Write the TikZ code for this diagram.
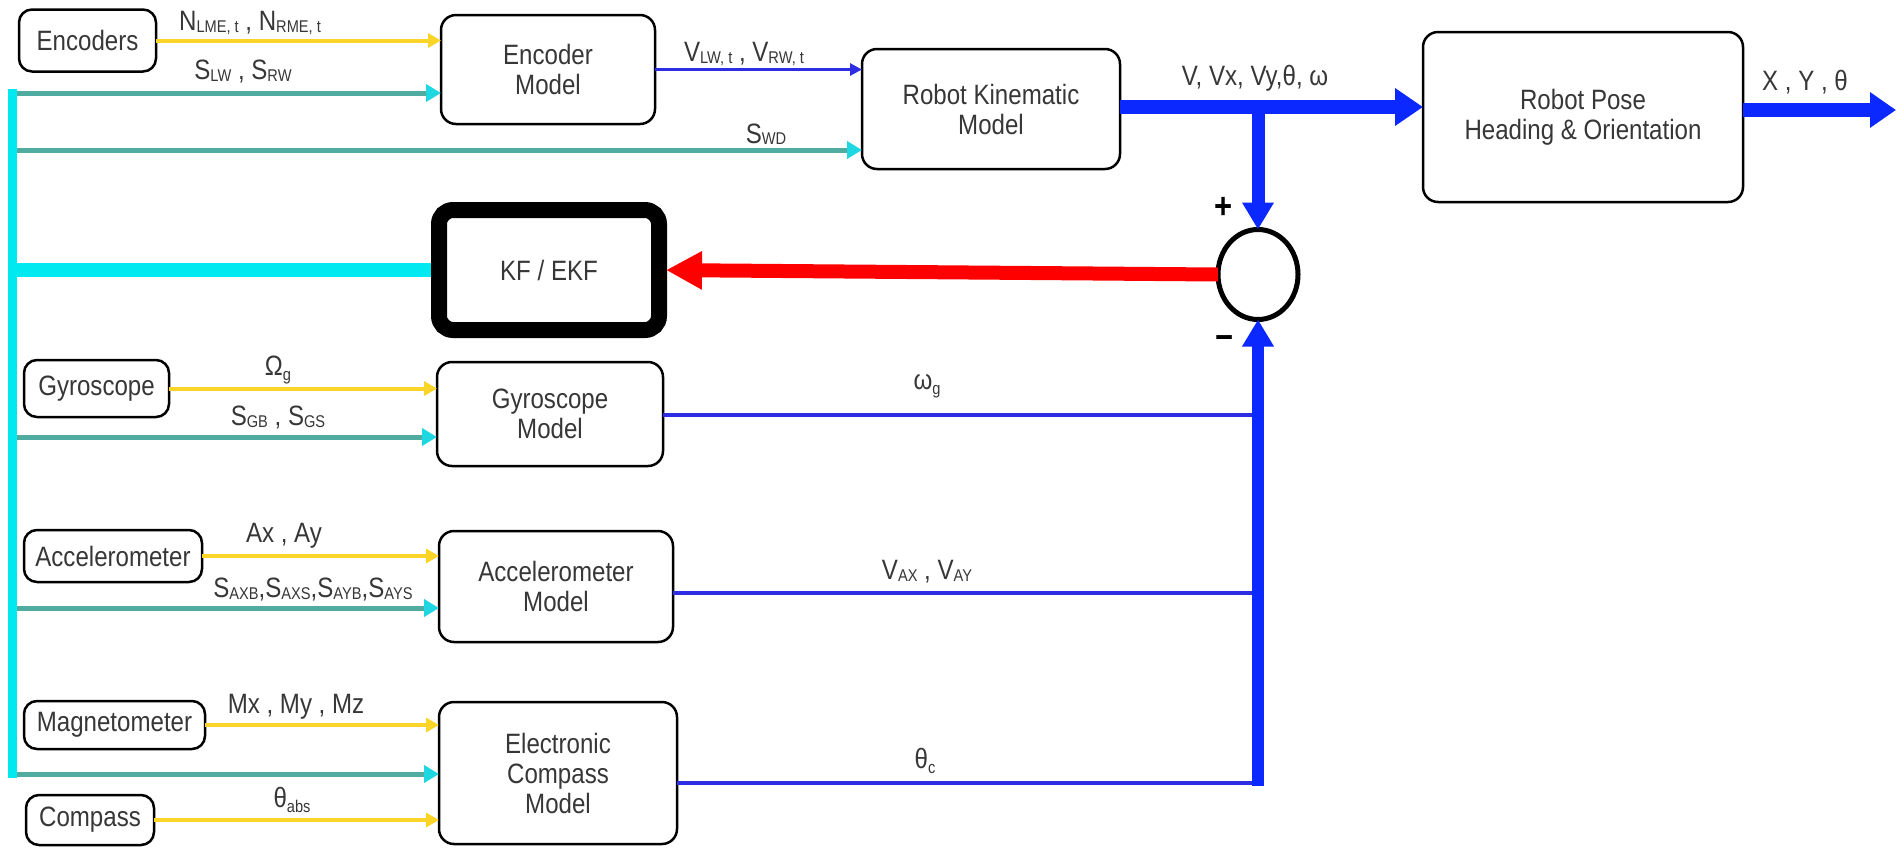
\documentclass[tikz,border=0pt]{standalone}
\usepackage{fontspec}
\setmainfont{Liberation Sans}[FakeStretch=0.86]
\usetikzlibrary{arrows.meta,shapes.geometric}
\definecolor{ylw}{RGB}{250,212,40}
\definecolor{tealc}{RGB}{80,172,160}
\definecolor{cyanh}{RGB}{30,215,225}
\definecolor{busc}{RGB}{0,232,240}
\definecolor{tblue}{RGB}{45,45,225}
\definecolor{bblue}{RGB}{10,40,255}
\definecolor{redc}{RGB}{255,0,0}
\definecolor{txt}{RGB}{55,55,55}
\newcommand{\lsub}[1]{\raisebox{-1.5pt}{\fontsize{17}{17}\selectfont #1}}
\newcommand{\gsub}[1]{\raisebox{-5pt}{\fontsize{17}{17}\selectfont #1}}
\begin{document}
\begin{tikzpicture}[x=1pt,y=-1pt,
  every node/.style={text=txt, font=\fontsize{28}{30}\selectfont, outer sep=0pt},
  box/.style={draw=black, line width=2.5pt, rounded corners=13pt, align=center, inner sep=0pt, fill=white},
  lbl/.style={inner sep=0pt},
  yarr/.style={draw=ylw, line width=4pt, -{Triangle[length=13pt,width=14pt]}},
  tarr/.style={draw=tealc, line width=5pt, -{Triangle[length=15pt,width=17pt,color=cyanh]}},
  tline/.style={draw=tblue, line width=3.5pt},
  bline/.style={draw=bblue, line width=14pt},
]
\useasboundingbox[fill=white] (0,0) rectangle (1897,847);

% sensor boxes
\node[box, minimum width=137pt, minimum height=62pt] (enc) at (87.5,40.5) {Encoders};
\node[box, minimum width=145pt, minimum height=57pt] (gyro) at (96.5,388.5) {Gyroscope};
\node[box, minimum width=178pt, minimum height=52pt] (acc) at (113,556) {Accelerometer};
\node[box, minimum width=181pt, minimum height=48pt] (mag) at (114.5,725) {Magnetometer};
\node[box, minimum width=128pt, minimum height=50pt] (comp) at (90,820) {Compass};

% model boxes
\node[box, rounded corners=15pt, minimum width=214pt, minimum height=109pt] (encm) at (548,69.5) {Encoder\\Model};
\node[box, rounded corners=15pt, minimum width=258pt, minimum height=120pt] (rkm) at (991,109) {Robot Kinematic\\Model};
\node[box, rounded corners=15pt, minimum width=320pt, minimum height=170pt] (rpose) at (1583,117) {Robot Pose\\Heading \& Orientation};
\node[box, line width=16pt, rounded corners=14pt, minimum width=220pt, minimum height=120pt] (kf) at (549,270) {KF / EKF};
\node[box, rounded corners=15pt, minimum width=226pt, minimum height=104pt] (gyrom) at (550,414) {Gyroscope\\Model};
\node[box, rounded corners=15pt, minimum width=234pt, minimum height=111pt] (accm) at (556,586.5) {Accelerometer\\Model};
\node[box, rounded corners=15pt, minimum width=238pt, minimum height=142pt] (ecm) at (558,773) {Electronic\\Compass\\Model};

% summing junction
\node[draw=black, line width=5pt, ellipse, minimum width=80pt, minimum height=90pt, inner sep=0pt, fill=white] (sum) at (1258,274.5) {};

% bus coordinates
\coordinate (bt) at (12,89);
\coordinate (bbot) at (12,778);
\coordinate (tp1) at (12,93);
\coordinate (tp2) at (12,150);
\coordinate (tk) at (12,270);
\coordinate (tp3) at (12,437);
\coordinate (tp4) at (12,608);
\coordinate (tp5) at (12,774);

% yellow sensor arrows
\draw[yarr] (enc.east) -- (enc.east -| encm.west);
\draw[yarr] (gyro.east) -- (gyro.east -| gyrom.west);
\draw[yarr] (acc.east) -- (acc.east -| accm.west);
\draw[yarr] (mag.east) -- (mag.east -| ecm.west);
\draw[yarr] (comp.east) -- (comp.east -| ecm.west);

% teal parameter arrows
\draw[tarr] (tp1) -- (tp1 -| encm.west);
\draw[tarr] (tp2) -- (tp2 -| rkm.west);
\draw[tarr] (tp3) -- (tp3 -| gyrom.west);
\draw[tarr] (tp4) -- (tp4 -| accm.west);
\draw[tarr] (tp5) -- (tp5 -| ecm.west);

% cyan bus
\draw[busc, line width=14pt, shorten >=8pt] (tk) -- (kf.west);
\draw[busc, line width=9pt] (bt) -- (bbot);

% encoder model to kinematic
\draw[tline, -{Triangle[length=12pt,width=12pt]}] (encm.east) -- (encm.east -| rkm.west);

% kinematic to pose
\coordinate (rko) at ([yshift=2pt]rkm.east);
\draw[bline, -{Triangle[length=28pt,width=36pt]}] (rko) -- (rko -| rpose.west);
\coordinate (br) at (rko -| sum.north);
\draw[draw=bblue, line width=13pt, -{Triangle[length=27pt,width=30pt]}] (br) -- (sum.north);

% pose output
\coordinate (outp) at (1896,110);
\draw[bline, -{Triangle[length=26pt,width=34pt]}] (rpose.east |- outp) -- (outp);

% red feedback
\draw[draw=redc, line width=14pt, shorten >=7pt, -{Triangle[length=36pt,width=36pt]}] (sum.west) -- (kf.east);

% measurement lines to the summing junction
\coordinate (gyo) at ([yshift=-1pt]gyrom.east);
\coordinate (aco) at ([yshift=-6.5pt]accm.east);
\coordinate (eco) at ([yshift=-10pt]ecm.east);
\coordinate (gyb) at (gyo -| sum);
\coordinate (acb) at (aco -| sum);
\coordinate (ecb) at (eco -| sum);
\draw[tline] (gyo) -- (gyb);
\draw[tline] (aco) -- (acb);
\draw[tline] (eco) -- (ecb);
\draw[draw=bblue, line width=12pt, -{Triangle[length=27pt,width=30pt]}] ([yshift=-3pt]ecb) -- (sum.south);

% labels
\node[lbl] (l1) at (250,23) {N\lsub{LME, t} , N\lsub{RME, t}};
\node[lbl] (l2) at (243,72) {S\lsub{LW} , S\lsub{RW}};
\node[lbl] (l3) at (744,54) {V\lsub{LW, t} , V\lsub{RW, t}};
\node[lbl] (l4) at (766,134) {S\lsub{WD}};
\node[lbl] (l5) at (1255,78) {V, Vx, Vy,θ, ω};
\node[lbl] (l6) at (1805,82) {X , Y , θ};
\node[lbl, text=black, font=\fontsize{36}{36}\selectfont\bfseries] (plus) at (1224,208) {+};
\node[lbl, text=black, font=\fontsize{36}{36}\selectfont\bfseries] (minus) at (1225,343) {−};
\node[lbl] (l7) at (278,370) {Ω\gsub{g}};
\node[lbl] (l8) at (278,418) {S\lsub{GB} , S\lsub{GS}};
\node[lbl] (l9) at (927,386) {ω\gsub{g}};
\node[lbl] (l10) at (284,536) {Ax , Ay};
\node[lbl] (l11) at (313,590) {S\lsub{AXB},S\lsub{AXS},S\lsub{AYB},S\lsub{AYS}};
\node[lbl] (l12) at (927,572) {V\lsub{AX} , V\lsub{AY}};
\node[lbl] (l13) at (296,707) {Mx , My , Mz};
\node[lbl] (l14) at (292,800) {θ\gsub{abs}};
\node[lbl] (l15) at (925,761) {θ\gsub{c}};
\end{tikzpicture}
\end{document}
